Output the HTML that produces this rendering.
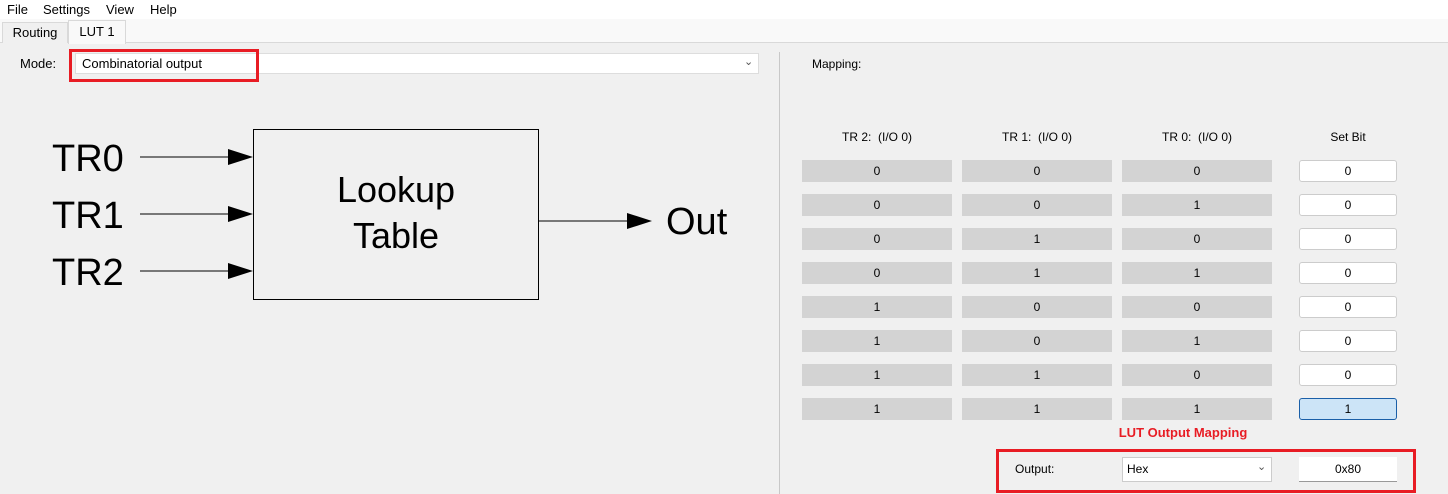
<!DOCTYPE html>
<html><head><meta charset="utf-8"><style>
*{margin:0;padding:0;box-sizing:border-box}
body{width:1448px;height:494px;background:#f0f0f0;font-family:"Liberation Sans",sans-serif;font-size:12px;color:#000;position:relative;overflow:hidden}
.a{position:absolute}
.menu{left:0;top:0;width:1448px;height:19px;background:#fff}
.menu span{position:absolute;top:2px;font-size:13px}
.tabbar{left:0;top:19px;width:1448px;height:24px;background:#f9f9f9;border-bottom:1px solid #d9d9d9}
.cell{position:absolute;width:150px;height:22px;background:#d3d3d3;text-align:center;line-height:22px;font-size:12px}
.sb{position:absolute;width:98px;height:22px;background:#fff;border:1px solid #ccc;border-radius:3px;text-align:center;line-height:20px}
.hd{position:absolute;top:130px;width:150px;text-align:center;font-size:12px}
</style></head><body>
<div class="a menu"><span style="left:7px">File</span><span style="left:43px">Settings</span><span style="left:106px">View</span><span style="left:150px">Help</span></div>
<div class="a tabbar"></div>
<div class="a" style="left:2px;top:22px;width:66px;height:21px;border:1px solid #d9d9d9;border-bottom:none;background:#f0f0f0;font-size:13px;text-align:center;line-height:20px">Routing</div>
<div class="a" style="left:68px;top:20px;width:58px;height:24px;border:1px solid #d9d9d9;border-bottom:none;background:#f9f9f9;font-size:13px;text-align:center;line-height:22px">LUT 1</div>
<div class="a" style="left:20px;top:56px;font-size:13px">Mode:</div>
<div class="a" style="left:75px;top:53px;width:684px;height:21px;background:#fff;border:1px solid #ddd;font-size:13px;padding-left:6px;line-height:19px">Combinatorial output</div>
<div class="a" style="left:744px;top:55px;font-size:11px;color:#555">&#8964;</div>
<div class="a" style="left:69px;top:49px;width:190px;height:33px;border:3px solid #e81c24"></div>
<div class="a" style="left:779px;top:52px;width:1px;height:442px;background:#c8c8c8"></div>
<svg class="a" style="left:0;top:0" width="780" height="494">
<rect x="253.5" y="129.5" width="285" height="170" fill="none" stroke="#000" stroke-width="1"/>
<g stroke="#000" stroke-width="1"><line x1="140" y1="157" x2="235" y2="157"/><line x1="140" y1="214" x2="235" y2="214"/><line x1="140" y1="271" x2="235" y2="271"/><line x1="538" y1="221" x2="632" y2="221"/></g>
<g fill="#000"><polygon points="228,149 253,157 228,165"/><polygon points="228,206 253,214 228,222"/><polygon points="228,263 253,271 228,279"/><polygon points="627,213 652,221 627,229"/></g>
<g font-family="Liberation Sans,sans-serif" font-size="38" fill="#000">
<text x="52" y="171">TR0</text><text x="52" y="228">TR1</text><text x="52" y="285">TR2</text>
<text x="666" y="234">Out</text>
<text x="396" y="202" text-anchor="middle" font-size="36">Lookup</text>
<text x="396" y="248" text-anchor="middle" font-size="36">Table</text></g>
</svg>
<div class="a" style="left:812px;top:57px;font-size:12px">Mapping:</div>
<div class="hd" style="left:802px">TR 2:&nbsp; (I/O 0)</div>
<div class="hd" style="left:962px">TR 1:&nbsp; (I/O 0)</div>
<div class="hd" style="left:1122px">TR 0:&nbsp; (I/O 0)</div>
<div class="hd" style="left:1299px;width:98px">Set Bit</div>
<div class="cell" style="left:802px;top:160px">0</div><div class="cell" style="left:962px;top:160px">0</div><div class="cell" style="left:1122px;top:160px">0</div><div class="sb" style="left:1299px;top:160px">0</div>
<div class="cell" style="left:802px;top:194px">0</div><div class="cell" style="left:962px;top:194px">0</div><div class="cell" style="left:1122px;top:194px">1</div><div class="sb" style="left:1299px;top:194px">0</div>
<div class="cell" style="left:802px;top:228px">0</div><div class="cell" style="left:962px;top:228px">1</div><div class="cell" style="left:1122px;top:228px">0</div><div class="sb" style="left:1299px;top:228px">0</div>
<div class="cell" style="left:802px;top:262px">0</div><div class="cell" style="left:962px;top:262px">1</div><div class="cell" style="left:1122px;top:262px">1</div><div class="sb" style="left:1299px;top:262px">0</div>
<div class="cell" style="left:802px;top:296px">1</div><div class="cell" style="left:962px;top:296px">0</div><div class="cell" style="left:1122px;top:296px">0</div><div class="sb" style="left:1299px;top:296px">0</div>
<div class="cell" style="left:802px;top:330px">1</div><div class="cell" style="left:962px;top:330px">0</div><div class="cell" style="left:1122px;top:330px">1</div><div class="sb" style="left:1299px;top:330px">0</div>
<div class="cell" style="left:802px;top:364px">1</div><div class="cell" style="left:962px;top:364px">1</div><div class="cell" style="left:1122px;top:364px">0</div><div class="sb" style="left:1299px;top:364px">0</div>
<div class="cell" style="left:802px;top:398px">1</div><div class="cell" style="left:962px;top:398px">1</div><div class="cell" style="left:1122px;top:398px">1</div><div class="sb" style="left:1299px;top:398px;background:#cce4f7;border-color:#1a5fa8">1</div>
<div class="a" style="left:1100px;top:425px;width:166px;text-align:center;color:#e81c24;font-weight:bold;font-size:13px">LUT Output Mapping</div>
<div class="a" style="left:996px;top:449px;width:420px;height:44px;border:3px solid #e81c24"></div>
<div class="a" style="left:1015px;top:462px;font-size:12px">Output:</div>
<div class="a" style="left:1122px;top:457px;width:150px;height:25px;background:#fff;border:1px solid #ccc;padding-left:4px;line-height:23px;font-size:12px">Hex</div>
<div class="a" style="left:1257px;top:460px;font-size:11px;color:#555">&#8964;</div>
<div class="a" style="left:1299px;top:457px;width:98px;height:25px;background:#fff;border-bottom:1px solid #999;text-align:center;line-height:24px;font-size:12px">0x80</div>
</body></html>
